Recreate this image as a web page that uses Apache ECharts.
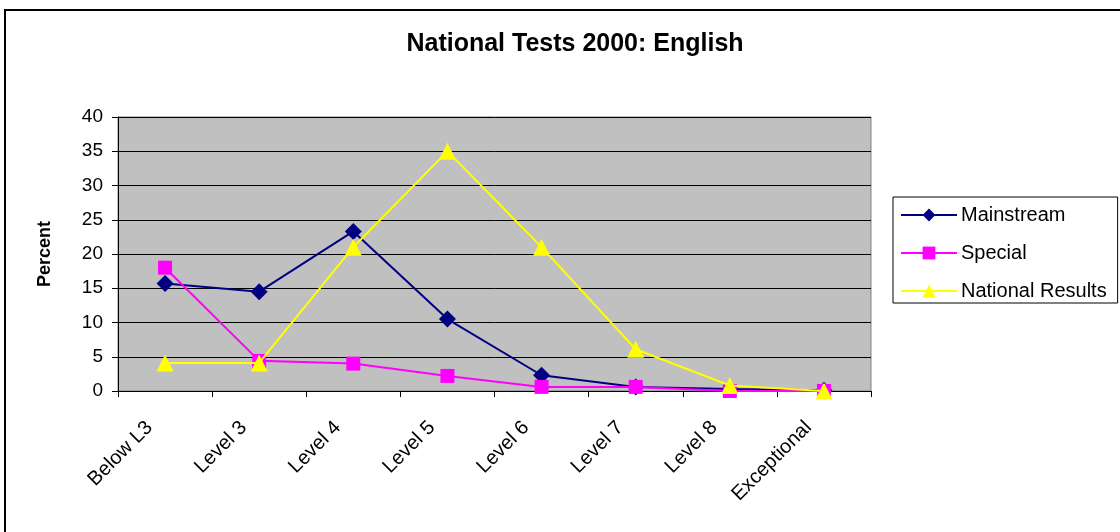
<!DOCTYPE html>
<html>
<head>
<meta charset="utf-8">
<script src="https://cdn.jsdelivr.net/npm/echarts@6/dist/echarts.min.js"></script>
<style>
  html, body { margin: 0; padding: 0; background: #fff; }
  #main { width: 1120px; height: 532px; }
</style>
</head>
<body>
<div id="main"></div>
<script type="text/javascript">
// data
const levels = ['Below L3', 'Level 3', 'Level 4', 'Level 5', 'Level 6', 'Level 7', 'Level 8', 'Exceptional'];
const mainstream = [15.7, 14.5, 23.3, 10.5, 2.3, 0.6, 0.3, 0.1];
const special = [18.0, 4.4, 4.0, 2.2, 0.6, 0.6, 0.0, 0.0];
const national = [4.1, 4.1, 21.0, 35.0, 21.0, 6.1, 0.8, 0.0];

const font = '"Liberation Sans", Arial, sans-serif';

var myChart = echarts.init(document.getElementById('main'), null, { width: 1120, height: 532 });
var option = {
  animation: false,
  textStyle: { fontFamily: font, color: '#000' },
  title: {
    text: 'National Tests 2000: English',
    left: 570, top: 27, textAlign: 'center',
    textStyle: { fontFamily: font, fontSize: 25, fontWeight: 'bold', color: '#000' }
  },
  graphic: [{
    type: 'rect', z: 0, silent: true,
    shape: { x: 5, y: 10, width: 1200, height: 600 },
    style: { fill: 'none', stroke: '#000', lineWidth: 2 }
  }],
  legend: {
    orient: 'vertical',
    left: 893, top: 197,
    padding: [8, 11, 2, 7],
    itemGap: 18,
    itemWidth: 56, itemHeight: 16,
    borderColor: '#000', borderWidth: 1,
    backgroundColor: '#fff',
    textStyle: { fontFamily: font, fontSize: 20, color: '#000', padding: [0, 0, 0, -1] },
    data: ['Mainstream', 'Special', 'National Results']
  },
  grid: { left: 118, right: 249, top: 117, bottom: 141, show: true, backgroundColor: '#c0c0c0', borderColor: '#808080', borderWidth: 1 },
  xAxis: {
    type: 'category',
    data: levels,
    boundaryGap: true,
    axisLine: { lineStyle: { color: '#000', width: 1 } },
    axisTick: { show: true, length: 6, lineStyle: { color: '#000' } },
    axisLabel: { rotate: 45, fontSize: 20, color: '#000', fontFamily: font, margin: 18, padding: [0, 22, 0, 0], interval: 0 },
    splitLine: { show: false }
  },
  yAxis: {
    type: 'value',
    min: 0, max: 40, interval: 5,
    name: 'Percent',
    nameLocation: 'middle',
    nameGap: 64,
    nameRotate: 90,
    nameTextStyle: { fontFamily: font, fontSize: 18, fontWeight: 'bold', color: '#000' },
    axisLine: { show: true, lineStyle: { color: '#000', width: 1 } },
    axisTick: { show: true, length: 6, lineStyle: { color: '#000' } },
    axisLabel: { fontSize: 19, color: '#000', fontFamily: font, margin: 15 },
    splitLine: { show: true, lineStyle: { color: '#000', width: 1 } }
  },
  series: [
    {
      name: 'Mainstream', type: 'line', data: mainstream,
      symbol: 'diamond', symbolSize: 17,
      lineStyle: { color: '#000080', width: 2 },
      itemStyle: { color: '#000080' }, z: 3
    },
    {
      name: 'Special', type: 'line', data: special,
      symbol: 'rect', symbolSize: 14,
      lineStyle: { color: '#ff00ff', width: 2 },
      itemStyle: { color: '#ff00ff' }, z: 4
    },
    {
      name: 'National Results', type: 'line', data: national,
      symbol: 'triangle', symbolSize: 17,
      lineStyle: { color: '#ffff00', width: 2 },
      itemStyle: { color: '#ffff00' }, z: 5
    }
  ]
};
myChart.setOption(option);
</script>
</body>
</html>
